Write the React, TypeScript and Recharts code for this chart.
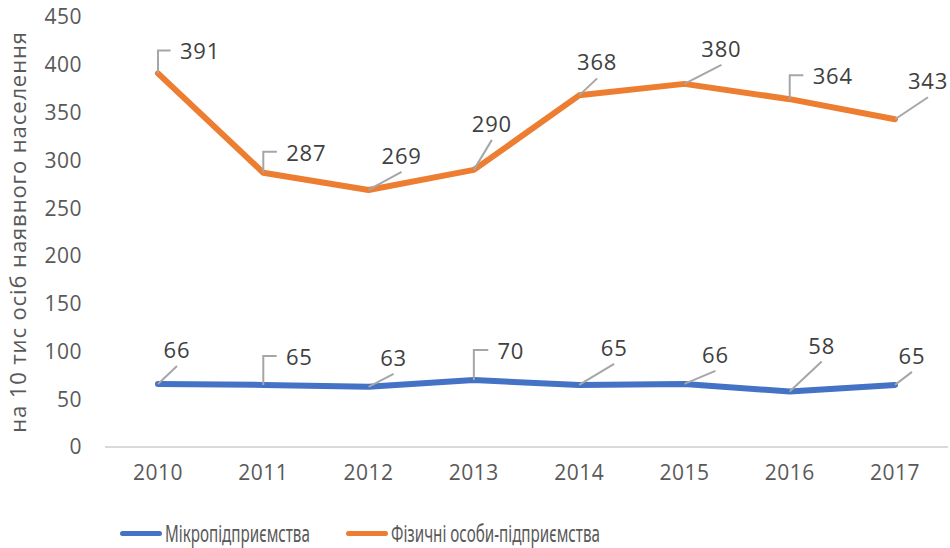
import React from 'react';
import { LineChart, Line, XAxis, YAxis, Legend } from 'recharts';

const years = ['2010', '2011', '2012', '2013', '2014', '2015', '2016', '2017'];
const microValues = [66, 65, 63, 70, 65, 66, 58, 65];
const fopValues = [391, 287, 269, 290, 368, 380, 364, 343];
const yTicks = [0, 50, 100, 150, 200, 250, 300, 350, 400, 450];

const MICRO_NAME = 'Мікропідприємства';
const FOP_NAME = 'Фізичні особи-підприємства';
const BLUE = '#4472C4';
const ORANGE = '#ED7D31';

// where each data label sits relative to its point, and the leader shape
const microLabelLayout = [
  { dx: 19, dy: -35, bracket: false },
  { dx: 36, dy: -29, bracket: true },
  { dx: 25, dy: -30, bracket: false },
  { dx: 37, dy: -30, bracket: true },
  { dx: 35, dy: -38, bracket: false },
  { dx: 31, dy: -30, bracket: false },
  { dx: 32, dy: -47, bracket: false },
  { dx: 17, dy: -30, bracket: false },
];
const fopLabelLayout = [
  { dx: 42, dy: -23, bracket: true },
  { dx: 43, dy: -21, bracket: true },
  { dx: 33, dy: -35, bracket: false },
  { dx: 18, dy: -47, bracket: false },
  { dx: 18, dy: -34, bracket: false },
  { dx: 37, dy: -36, bracket: false },
  { dx: 43, dy: -24, bracket: true },
  { dx: 33, dy: -39, bracket: false },
];

const data = years.map((year, i) => ({ year, micro: microValues[i], fop: fopValues[i] }));

const labelFont = "'Open Sans', 'Noto Sans', sans-serif";

const makeLabel = (layout: { dx: number; dy: number; bracket: boolean }[]) => (props: any) => {
  const { x, y, value, index } = props;
  const l = layout[index];
  if (!l || x == null || y == null) return null;
  const cx = x + l.dx;
  const cy = y + l.dy;
  const halfW = String(value).length * 6.8;
  const leader = l.bracket
    ? `M${x},${y} V${cy} H${cx - halfW - 9}`
    : `M${x},${y} L${cx},${cy + 17}`;
  return (
    <g key={`lbl-${index}`}>
      <path d={leader} stroke="#A6A6A6" strokeWidth={2} fill="none" />
      <text
        x={cx}
        y={cy}
        textAnchor="middle"
        dominantBaseline="central"
        fill="#404040"
        fontSize={22}
        letterSpacing={0.8}
        fontFamily={labelFont}
      >
        {value}
      </text>
    </g>
  );
};

const legendItems = [
  { name: MICRO_NAME, color: BLUE, left: 120 },
  { name: FOP_NAME, color: ORANGE, left: 346 },
];

const LegendContent = () => (
  <div
    style={{
      position: 'relative',
      height: 30,
      fontFamily: "'Noto Sans', sans-serif",
      fontSize: 23,
      color: '#595959',
    }}
  >
    {legendItems.map((item) => (
      <div
        key={item.name}
        style={{ position: 'absolute', left: item.left, top: 0, height: 30, display: 'flex', alignItems: 'center' }}
      >
        <span
          style={{
            display: 'inline-block',
            width: 42,
            height: 5,
            borderRadius: 3,
            background: item.color,
            marginRight: 3,
          }}
        />
        <span
          style={{
            display: 'inline-block',
            whiteSpace: 'nowrap',
            transform: 'scaleX(0.66)',
            transformOrigin: 'left center',
          }}
        >
          {item.name}
        </span>
      </div>
    ))}
  </div>
);

export default function App() {
  const tickStyle = { fill: '#595959', fontSize: 21, fontFamily: labelFont, letterSpacing: 0.5 };
  return (
    <div style={{ position: 'absolute', left: 0, top: 0, width: 950, height: 548, background: '#fff' }}>
      <LineChart width={950} height={548} data={data} margin={{ top: 17, right: 2, left: 35, bottom: 31 }}>
        <XAxis
          dataKey="year"
          padding={{ left: 53, right: 53 }}
          axisLine={{ stroke: '#D9D9D9', strokeWidth: 2 }}
          tickLine={false}
          tickSize={0}
          tickMargin={18}
          tick={tickStyle}
          height={40}
        />
        <YAxis
          domain={[0, 450]}
          ticks={yTicks}
          axisLine={false}
          tickLine={false}
          tickSize={0}
          tickMargin={23}
          tick={tickStyle}
          width={70}
          label={{
            value: 'на 10 тис осіб наявного населення',
            angle: -90,
            position: 'insideLeft',
            offset: -17,
            style: { fill: '#595959', fontSize: 22, letterSpacing: 0.9, fontFamily: labelFont, textAnchor: 'middle' },
          }}
        />
        <Legend verticalAlign="bottom" wrapperStyle={{ left: 0, bottom: 0, width: 950 }} content={<LegendContent />} />
        <Line
          type="linear"
          dataKey="micro"
          name={MICRO_NAME}
          stroke={BLUE}
          strokeWidth={6}
          strokeLinecap="round"
          strokeLinejoin="round"
          dot={false}
          activeDot={false}
          isAnimationActive={false}
          label={makeLabel(microLabelLayout)}
        />
        <Line
          type="linear"
          dataKey="fop"
          name={FOP_NAME}
          stroke={ORANGE}
          strokeWidth={6}
          strokeLinecap="round"
          strokeLinejoin="round"
          dot={false}
          activeDot={false}
          isAnimationActive={false}
          label={makeLabel(fopLabelLayout)}
        />
      </LineChart>
    </div>
  );
}
